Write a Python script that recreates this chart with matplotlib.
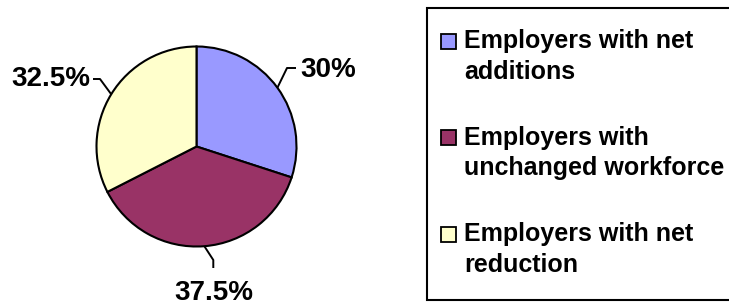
import numpy as np
import matplotlib
matplotlib.use("Agg")
import matplotlib.pyplot as plt
from matplotlib.patches import Rectangle

# ---- data ----
categories = ["Employers with net\nadditions",
              "Employers with\nunchanged workforce",
              "Employers with net\nreduction"]
values = [30, 37.5, 32.5]
colors = ["#9999FF", "#993366", "#FFFFCC"]

W, H = 729, 305
FONT = "Liberation Sans"

fig = plt.figure(figsize=(W / 100, H / 100), dpi=100)
ax = fig.add_axes([0, 0, 1, 1])

def Y(y):
    return H - y

cx, cy, r = 196.5, 146.5, 100
wedges, _ = ax.pie(values, colors=colors, startangle=90, counterclock=False,
                   center=(cx, Y(cy)), radius=r,
                   wedgeprops=dict(edgecolor="black", linewidth=1.5))
ax.set_xlim(0, W)
ax.set_ylim(0, H)
ax.set_aspect("equal")
ax.axis("off")

# label layout: (elbow point, end point, text anchor, ha)
layouts = [
    ((287, 68), (296, 68), (300, 77), "left"),
    ((213.3, 260), (213.3, 268), (213.5, 300), "center"),
    ((100, 79), (93, 79), (90, 86.5), "right"),
]
for w, v, (p1, p2, (tx, ty), ha) in zip(wedges, values, layouts):
    ang = np.deg2rad((w.theta1 + w.theta2) / 2)
    ex = cx + r * np.cos(ang)
    ey = Y(cy) + r * np.sin(ang)
    ax.plot([ex, p1[0], p2[0]], [ey, Y(p1[1]), Y(p2[1])], color="black",
            lw=1.4, solid_capstyle="butt")
    ax.text(tx, Y(ty), f"{v:g}%", ha=ha, va="baseline", fontsize=20,
            fontweight="bold", family=FONT, color="black")

# ---- legend ----
ax.add_patch(Rectangle((427, Y(300)), 340, 292, facecolor="white",
                       edgecolor="black", linewidth=1.5, clip_on=False, zorder=1))
base0, step, line_gap = 48, 96.5, 31
for i, (lab, col) in enumerate(zip(categories, colors)):
    b = base0 + i * step
    ax.add_patch(Rectangle((441.5, Y(b + 0.5)), 15, 15, facecolor=col,
                           edgecolor="black", linewidth=1.3, zorder=3))
    for j, line in enumerate(lab.split("\n")):
        ax.text(464, Y(b + j * line_gap), line, ha="left", va="baseline",
                fontsize=18, fontweight="bold", family=FONT, color="black",
                zorder=3)

fig.savefig("out.png", dpi=100)
